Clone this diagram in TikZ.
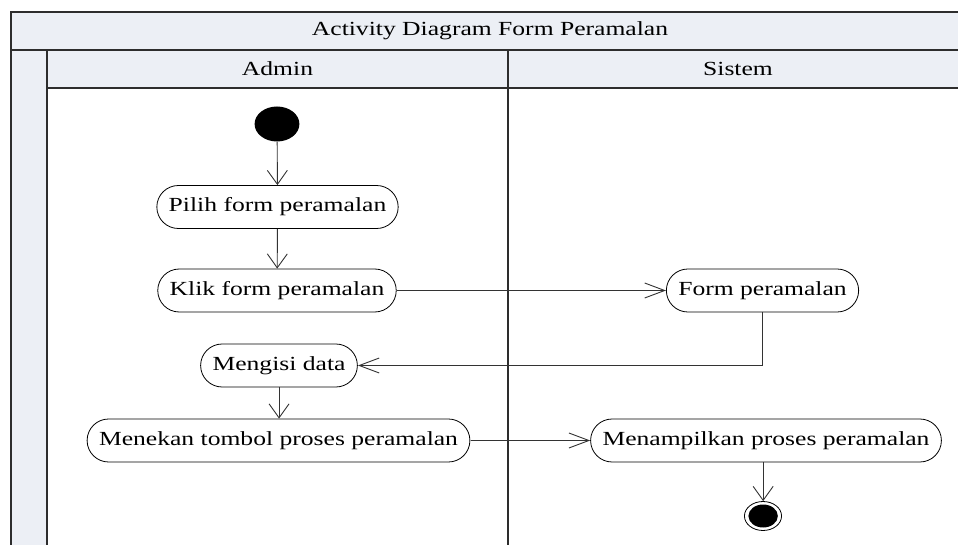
\documentclass[tikz,border=0pt]{standalone}
\usepackage{fontspec}
\setmainfont{Liberation Serif}
\usetikzlibrary{arrows.meta}
\definecolor{bandfill}{RGB}{236,239,245}
\definecolor{framecol}{RGB}{45,45,45}
\tikzset{
  frameline/.style={draw=framecol, line width=1.6pt},
  txt/.style={font=\fontsize{20}{24}\selectfont, inner sep=0pt},
  act/.style={draw, rectangle, rounded corners=21.5pt, minimum height=43pt,
    inner xsep=9.3pt, inner ysep=0pt, font=\fontsize{20}{24}\selectfont, line width=0.8pt},
  conn/.style={draw=black!80, line width=0.9pt},
  harr/.style={conn, -{Straight Barb[length=20pt,width=15pt]}},
  varr/.style={conn, -{Straight Barb[length=14pt,width=20pt]}},
}
\begin{document}
\begin{tikzpicture}[x=1pt,y=-1pt]
\useasboundingbox (0,0) rectangle (958,545);
\clip (0,0) rectangle (958,545);
% swimlane frame
\fill[bandfill] (11,12) rectangle (972,88);
\fill[bandfill] (11,50) rectangle (47,550);
\draw[frameline] (972,12) -- (11,12) -- (11,550);
\draw[frameline] (11,50) -- (972,50);
\draw[frameline] (47,50) -- (47,550);
\draw[frameline] (47,88) -- (972,88);
\draw[frameline] (508,50) -- (508,550);
\begin{scope}[x=0.78125pt, xscale=1.28, transform shape]
  \node[txt] (title) at (490,31) {Activity Diagram Form Peramalan};
  \node[txt] (laneA) at (277.5,69) {Admin};
  \node[txt] (laneS) at (738,69) {Sistem};
  \node[circle, fill=black, minimum size=35pt, inner sep=0pt] (start) at (277,124) {};
  \node[act] (pilih) at (277.5,207) {Pilih form peramalan};
  \node[act] (klik) at (277,290.5) {Klik form peramalan};
  \node[act] (form) at (762.5,290.5) {Form peramalan};
  \node[act] (isi) at (279,365.5) {Mengisi data};
  \node[act] (tekan) at (278.5,440.5) {Menekan tombol proses peramalan};
  \node[act] (tampil) at (766,440.5) {Menampilkan proses peramalan};
  \node[circle, draw, line width=0.8pt, minimum size=29pt, inner sep=0pt] (end) at (763,516) {};
  \node[circle, fill=black, minimum size=23pt, inner sep=0pt] (endin) at (end) {};
  \draw[varr] (start) -- (pilih);
  \draw[varr] (pilih) -- (klik);
  \draw[harr] (klik) -- (form);
  \draw[harr] (form.south) |- (isi.east);
  \draw[varr] (isi.south) -- (isi.south |- tekan.north);
  \draw[harr] (tekan) -- (tampil);
  \draw[varr] (end.north |- tampil.south) -- (end.north);
\end{scope}
\end{tikzpicture}
\end{document}
